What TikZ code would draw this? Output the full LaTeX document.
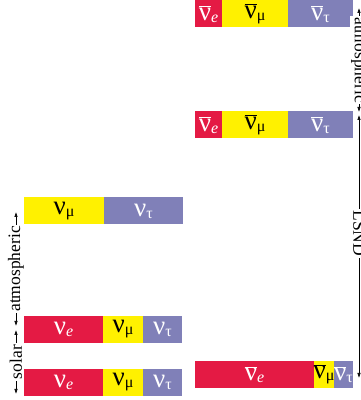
\documentclass[tikz,border=0pt]{standalone}
\usepackage{fontspec}
\setmainfont{Liberation Serif}
\usetikzlibrary{arrows.meta}
\definecolor{nured}{RGB}{228,26,68}
\definecolor{nuyel}{RGB}{255,241,0}
\definecolor{nupur}{RGB}{128,128,184}
\newcommand{\flv}[1]{\raisebox{-2pt}{\fontsize{16}{16}\selectfont #1}}
\newcommand{\ab}[1]{$\overline{\mbox{#1}}$}
\newcommand{\ctr}[1]{\makebox[0pt]{#1}}

\begin{document}
\begin{tikzpicture}[x=1pt,y=1pt,
		seg/.style={minimum height=27pt, inner sep=0pt, outer sep=0pt, anchor=west,
			font=\fontsize{27}{27}\selectfont},
		re/.style={seg, fill=nured, text=white},
		ye/.style={seg, fill=nuyel, text=black},
		pu/.style={seg, fill=nupur, text=white},
		gap/.style={{Latex[length=5pt,width=3.5pt]}-{Latex[length=5pt,width=3.5pt]}, line width=.6pt},
		tag/.style={fill=white, inner sep=1.5pt, font=\fontsize{17.5}{17.5}\selectfont}]
		\useasboundingbox (0,0) rectangle (361,400);
		% left: normal hierarchy
		\node[ye, minimum width=80pt] (l3y) at (24,189) {\ctr{ν\flv{μ}}};
		\node[pu, minimum width=79pt] (l3p) at (104,189) {\ctr{ν\flv{τ}}};
		\node[re, minimum width=79pt] (l2r) at (24,70.5) {\ctr{ν\flv{\textit{e}}}};
		\node[ye, minimum width=40pt] (l2y) at (103,70.5) {\ctr{ν\flv{μ}}};
		\node[pu, minimum width=39pt] (l2p) at (143,70.5) {\ctr{ν\flv{τ}}};
		\node[re, minimum width=79pt] (l1r) at (24,17.5) {\ctr{ν\flv{\textit{e}}}};
		\node[ye, minimum width=40pt] (l1y) at (103,17.5) {\ctr{ν\flv{μ}}};
		\node[pu, minimum width=39pt] (l1p) at (143,17.5) {\ctr{ν\flv{τ}}};
		% right: antineutrinos
		\node[re, minimum width=27pt] (r3r) at (195,386) {\ctr{\ab{ν}\flv{\textit{e}}}};
		\node[ye, minimum width=66pt] (r3y) at (222,386) {\ctr{\ab{ν}\flv{μ}}};
		\node[pu, minimum width=65pt] (r3p) at (288,386) {\ctr{\ab{ν}\flv{τ}}};
		\node[re, minimum width=27pt] (r2r) at (195,275) {\ctr{\ab{ν}\flv{\textit{e}}}};
		\node[ye, minimum width=66pt] (r2y) at (222,275) {\ctr{\ab{ν}\flv{μ}}};
		\node[pu, minimum width=65pt] (r2p) at (288,275) {\ctr{\ab{ν}\flv{τ}}};
		\node[re, minimum width=119pt] (r1r) at (195,25.5) {\ctr{\ab{ν}\flv{\textit{e}}}};
		\node[ye, minimum width=20pt] (r1y) at (314,25.5) {\ctr{\ab{ν}\flv{μ}}};
		\node[pu, minimum width=19pt] (r1p) at (334,25.5) {\ctr{\ab{ν}\flv{τ}}};
		% splittings
		\coordinate (la) at (16,188);
		\coordinate (lb) at (16,74);
		\coordinate (lc) at (16,70);
		\coordinate (ld) at (16,6);
		\coordinate (ra) at (359,392);
		\coordinate (rb) at (359,288);
		\coordinate (rc) at (359,285);
		\coordinate (rd) at (359,22);
		\draw[gap] (la) -- node[tag, rotate=90] {atmospheric} (lb);
		\draw[gap] (lc) -- node[tag, rotate=90] {solar} (ld);
		\draw[gap] (ra) -- node[tag, rotate=-90] {atmospheric} (rb);
		\draw[gap] (rc) -- node[tag, rotate=-90, pos=.45] {LSND} (rd);
\end{tikzpicture}
\end{document}
